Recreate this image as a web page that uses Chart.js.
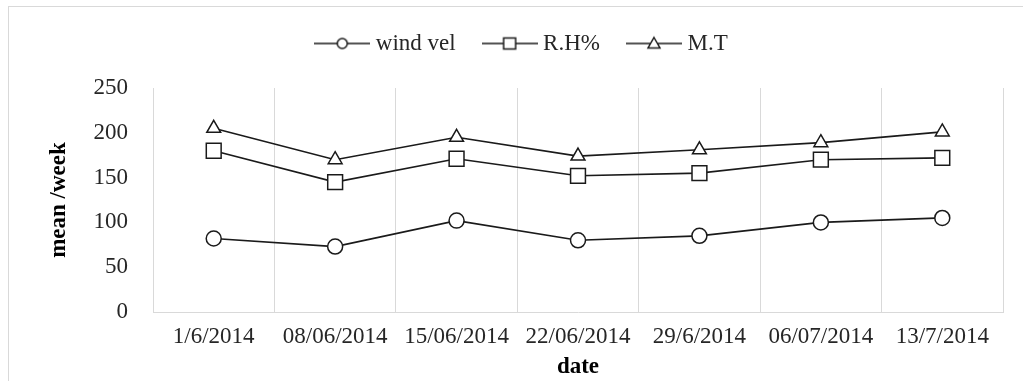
<!DOCTYPE html>
<html lang="en">
<head>
<meta charset="UTF-8">
<title>mean /week</title>
<script src="https://cdn.jsdelivr.net/npm/chart.js"></script>
<style>
  body { margin: 0; background: #fff; }
  #frame { position: absolute; left: 8px; top: 6px; width: 1100px; height: 500px; border: 1px solid #d9d9d9; }
  #wrap { position: absolute; left: 0; top: 0; width: 1023px; height: 381px; }
</style>
</head>
<body>
<div id="frame"></div>
<div id="wrap"><canvas id="chart" width="1023" height="381"></canvas></div>
<script>
  const dates = ['1/6/2014', '08/06/2014', '15/06/2014', '22/06/2014', '29/6/2014', '06/07/2014', '13/7/2014'];
  const windVel = [82, 73, 102, 80, 85, 100, 105];
  const relHum = [180, 145, 171, 152, 155, 170, 172];
  const meanTemp = [205, 170, 195, 174, 181, 189, 201];
  const yTicks = [0, 50, 100, 150, 200, 250];

  const ink = '#1a1a1a';
  const serif = "'Liberation Serif', 'Times New Roman', serif";

  // small line + marker picture for each legend entry
  function legendIcon(kind) {
    const c = document.createElement('canvas');
    c.width = 56; c.height = 20;
    const g = c.getContext('2d');
    g.strokeStyle = ink; g.lineWidth = 1.5;
    g.beginPath(); g.moveTo(0, 10); g.lineTo(56, 10); g.stroke();
    g.fillStyle = '#fff';
    g.beginPath();
    if (kind === 'circle') g.arc(28, 10, 5, 0, Math.PI * 2);
    if (kind === 'rect') g.rect(22, 4.5, 12, 11);
    if (kind === 'triangle') { g.moveTo(28, 4); g.lineTo(34, 14.5); g.lineTo(22, 14.5); g.closePath(); }
    g.fill(); g.stroke();
    return c;
  }

  const legendFit = {
    id: 'legendFit',
    beforeInit(chart) {
      const fit = chart.legend.fit;
      chart.legend.fit = function () {
        fit.bind(chart.legend)();
        this.height = 88;
      };
    }
  };

  new Chart(document.getElementById('chart'), {
    type: 'line',
    data: {
      labels: dates,
      datasets: [
        { label: 'wind vel', data: windVel, pointStyle: 'circle', pointRadius: 7.5, icon: legendIcon('circle') },
        { label: 'R.H%', data: relHum, pointStyle: 'rect', pointRadius: 10.5, icon: legendIcon('rect') },
        { label: 'M.T', data: meanTemp, pointStyle: 'triangle', pointRadius: 8, icon: legendIcon('triangle') }
      ].map(d => Object.assign({
        borderColor: ink,
        borderWidth: 1.6,
        pointBorderColor: ink,
        pointBackgroundColor: '#fff',
        pointBorderWidth: 1.5,
        tension: 0
      }, d))
    },
    options: {
      responsive: false,
      animation: false,
      layout: { padding: { left: 45, right: 20, top: 0, bottom: 0 } },
      scales: {
        x: {
          offset: true,
          grid: { offset: true, color: '#d9d9d9', drawTicks: false },
          border: { color: '#d9d9d9' },
          ticks: { color: '#262626', padding: 11, font: { family: serif, size: 23 }, maxRotation: 0, autoSkip: false },
          title: { display: true, text: 'date', color: '#000', padding: { top: 0, bottom: 0 }, font: { family: serif, size: 23, weight: 'bold' } },
          afterFit(scale) { scale.height = 69; }
        },
        y: {
          min: 0,
          max: 250,
          afterBuildTicks(scale) { scale.ticks = yTicks.map(v => ({ value: v })); },
          grid: { display: false, drawTicks: false },
          border: { display: false },
          ticks: { color: '#262626', padding: 25, font: { family: serif, size: 23 } },
          title: { display: true, text: 'mean /week', color: '#000', padding: { top: 0, bottom: 0 }, font: { family: serif, size: 23, weight: 'bold' } },
          afterFit(scale) { scale.width = 108; }
        }
      },
      plugins: {
        tooltip: { enabled: false },
        legend: {
          position: 'top',
          labels: {
            usePointStyle: true,
            pointStyleWidth: 44,
            padding: 32,
            color: '#262626',
            font: { family: serif, size: 23 },
            generateLabels(chart) {
              return chart.data.datasets.map((d, i) => ({
                text: d.label,
                pointStyle: d.icon,
                datasetIndex: i,
                hidden: false,
                fontColor: '#262626'
              }));
            }
          }
        }
      }
    },
    plugins: [legendFit]
  });
</script>
</body>
</html>
